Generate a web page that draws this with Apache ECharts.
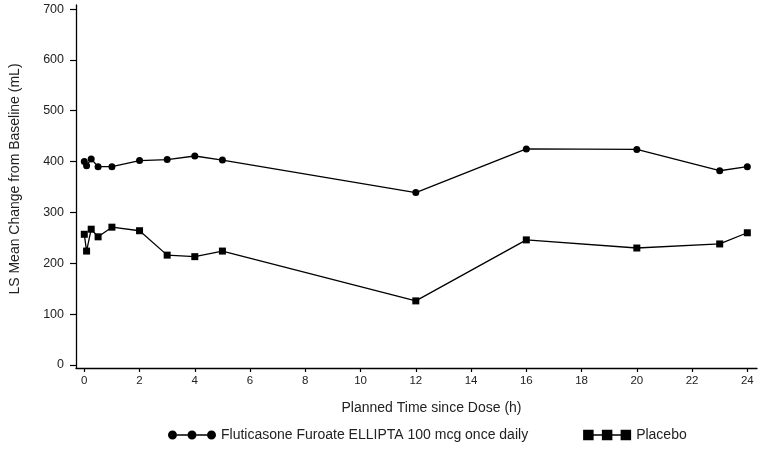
<!DOCTYPE html>
<html>
<head>
<meta charset="utf-8">
<script src="https://cdn.jsdelivr.net/npm/echarts@6/dist/echarts.min.js"></script>
<style>html,body{margin:0;padding:0;background:#fff}#c{width:766px;height:451px}</style>
</head>
<body>
<div id="c"></div>
<script>
var times = [0, 0.083, 0.25, 0.5, 1, 2, 3, 4, 5, 12, 16, 20, 23, 24];
var ffValues = [400, 392, 405, 390, 390, 402, 404, 411, 403, 339, 425, 424, 382, 390];
var placeboValues = [257, 224, 267, 252, 271, 264, 216, 213, 224, 126, 246, 230, 238, 260];
var xTicks = [0, 2, 4, 6, 8, 10, 12, 14, 16, 18, 20, 22, 24];
var yTicks = [0, 100, 200, 300, 400, 500, 600, 700];
var seriesNames = ['Fluticasone Furoate ELLIPTA 100 mcg once daily', 'Placebo'];

function pairs(xs, ys) { return xs.map(function (x, i) { return [x, ys[i]]; }); }

var circleIcon = 'path://M0,4.5A4.5,4.5 0 1,1 9,4.5A4.5,4.5 0 1,1 0,4.5Z M19.5,4.5A4.5,4.5 0 1,1 28.5,4.5A4.5,4.5 0 1,1 19.5,4.5Z M39,4.5A4.5,4.5 0 1,1 48,4.5A4.5,4.5 0 1,1 39,4.5Z M9,3.7L19.5,3.7L19.5,5.3L9,5.3Z M28.5,3.7L39,3.7L39,5.3L28.5,5.3Z';
var squareIcon = 'path://M0,0L10.5,0L10.5,10.5L0,10.5Z M18.75,0L29.25,0L29.25,10.5L18.75,10.5Z M37.5,0L48,0L48,10.5L37.5,10.5Z M10.5,4.45L18.75,4.45L18.75,6.05L10.5,6.05Z M29.25,4.45L37.5,4.45L37.5,6.05L29.25,6.05Z';

var font = 'Liberation Sans, Arial, sans-serif';
var chart = echarts.init(document.getElementById('c'));
chart.setOption({
  animation: false,
  textStyle: { fontFamily: font, color: '#222' },
  grid: { left: 76, right: 9, top: 5, bottom: 83, containLabel: false },
  legend: {
    left: 163, top: 423, selectedMode: false,
    itemGap: 55, itemWidth: 48, itemHeight: 12,
    textStyle: { fontSize: 14, color: '#222', fontFamily: font },
    data: [
      { name: seriesNames[0], icon: circleIcon },
      { name: seriesNames[1], icon: squareIcon }
    ]
  },
  xAxis: {
    type: 'value', min: -0.3, max: 24.35,
    name: 'Planned Time since Dose (h)', nameLocation: 'middle', nameGap: 33,
    nameTextStyle: { fontSize: 14, color: '#222', padding: [0, 0, 0, 30] },
    axisLine: { show: true, onZero: false, lineStyle: { color: '#000', width: 1.3 } },
    axisTick: { show: true, length: 4, lineStyle: { color: '#000', width: 1.2 }, customValues: xTicks },
    axisLabel: { fontSize: 11.5, color: '#222', margin: 7, customValues: xTicks },
    splitLine: { show: false }
  },
  yAxis: {
    type: 'value', min: -6, max: 708,
    name: 'LS Mean Change from Baseline (mL)', nameLocation: 'middle', nameGap: 54,
    nameTextStyle: { fontSize: 14, color: '#222', padding: [0, 0, 0, 15] },
    axisLine: { show: true, onZero: false, lineStyle: { color: '#000', width: 1.3 } },
    axisTick: { show: true, length: 6, lineStyle: { color: '#000', width: 1.2 }, customValues: yTicks },
    axisLabel: { fontSize: 12.5, color: '#222', margin: 12, customValues: yTicks },
    splitLine: { show: false }
  },
  series: [
    {
      name: seriesNames[0], type: 'line', data: pairs(times, ffValues),
      symbol: 'circle', symbolSize: 7, showAllSymbol: true,
      lineStyle: { color: '#000', width: 1.3 }, itemStyle: { color: '#000' }
    },
    {
      name: seriesNames[1], type: 'line', data: pairs(times, placeboValues),
      symbol: 'rect', symbolSize: 7, showAllSymbol: true,
      lineStyle: { color: '#000', width: 1.3 }, itemStyle: { color: '#000' }
    }
  ]
});
</script>
</body>
</html>
